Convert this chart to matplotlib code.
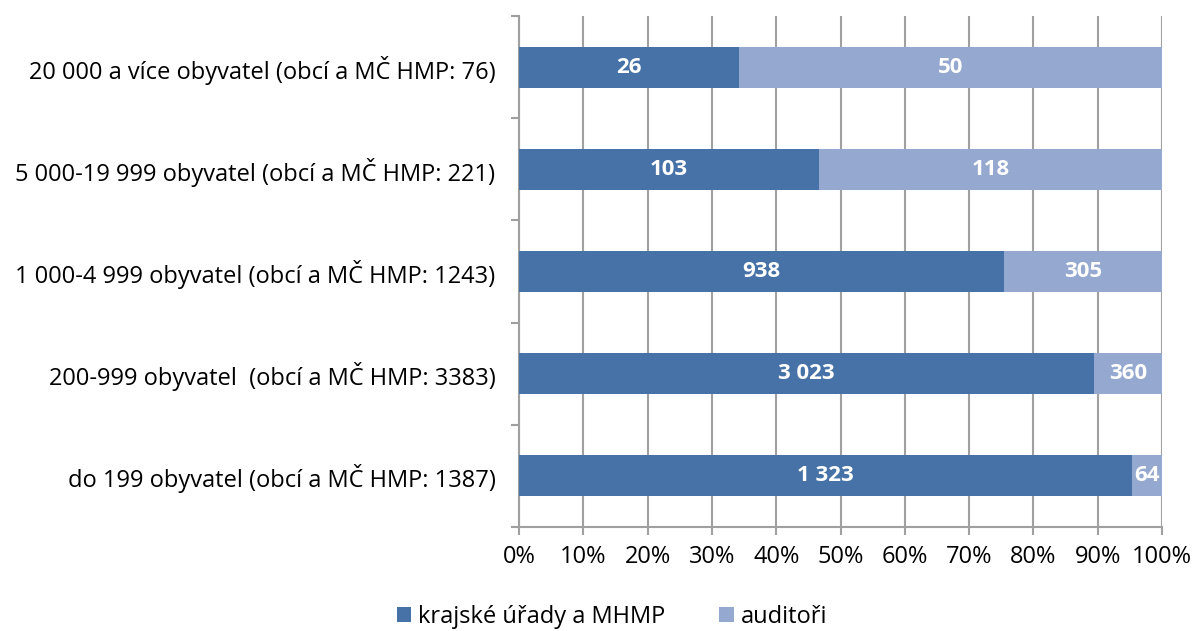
import numpy as np
import matplotlib.pyplot as plt
from matplotlib.ticker import FixedLocator, PercentFormatter

plt.rcParams['font.family'] = ['Open Sans', 'DejaVu Sans']

categories = ['do 199 obyvatel (obcí a MČ HMP: 1387)',
              '200-999 obyvatel  (obcí a MČ HMP: 3383)',
              '1 000-4 999 obyvatel (obcí a MČ HMP: 1243)',
              '5 000-19 999 obyvatel (obcí a MČ HMP: 221)',
              '20 000 a více obyvatel (obcí a MČ HMP: 76)']
kraje = [1323, 3023, 938, 103, 26]
auditori = [64, 360, 305, 118, 50]
series_names = ['krajské úřady a MHMP', 'auditoři']

c_dark = '#4672a7'
c_light = '#94a8d0'
grid_c = '#a0a0a0'
fs = 17

def fmt(v):
    return '{:,}'.format(v).replace(',', ' ')

k = np.array(kraje, dtype=float)
a = np.array(auditori, dtype=float)
tot = k + a
kp = k / tot
ap = a / tot
y = np.arange(len(categories))

fig = plt.figure(figsize=(11.95, 6.31), dpi=100)
ax = fig.add_axes([519/1195, 1 - 527/631, (1162-519)/1195, (527-16)/631])

b1 = ax.barh(y, kp, height=0.4, color=c_dark, label=series_names[0], zorder=3)
b2 = ax.barh(y, ap, left=kp, height=0.4, color=c_light, label=series_names[1], zorder=3)

for i in range(len(y)):
    ax.text(kp[i] / 2, y[i], fmt(kraje[i]), ha='center', va='center',
            color='white', fontweight='bold', fontsize=16, zorder=4)
    ax.text(kp[i] + ap[i] / 2, y[i], fmt(auditori[i]), ha='center', va='center',
            color='white', fontweight='bold', fontsize=16, zorder=4)

ax.set_xlim(0, 1)
ax.set_ylim(-0.5, len(y) - 0.5)
ax.xaxis.set_major_locator(FixedLocator(np.linspace(0, 1, 11)))
ax.xaxis.set_major_formatter(PercentFormatter(1.0, decimals=0))
ax.grid(axis='x', color=grid_c, linewidth=1.5, zorder=0)

ax.set_yticks(y)
ax.set_yticklabels(categories)
ax.yaxis.set_minor_locator(FixedLocator(np.arange(-0.5, len(y), 1.0)))
ax.tick_params(axis='y', which='major', length=0, pad=17, labelsize=fs)
ax.tick_params(axis='y', which='minor', length=6, color=grid_c, width=1.5)
ax.tick_params(axis='x', length=6, color=grid_c, width=1.5, labelsize=fs, pad=7)

for s in ['top', 'right']:
    ax.spines[s].set_visible(False)
ax.spines['left'].set_color(grid_c)
ax.spines['left'].set_linewidth(1.5)
ax.spines['bottom'].set_color(grid_c)
ax.spines['bottom'].set_linewidth(1.5)

fig.legend(handles=[b1, b2], loc='center', bbox_to_anchor=(0.512, 1 - 617/631),
           ncol=2, frameon=False, fontsize=fs, handlelength=0.6, handleheight=0.6,
           handletextpad=0.3, columnspacing=2.3)

fig.savefig('out.png', dpi=100)
